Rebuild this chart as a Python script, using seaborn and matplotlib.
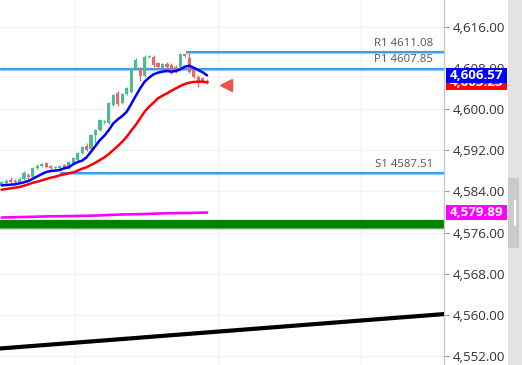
import numpy as np
import pandas as pd
import matplotlib
matplotlib.use("Agg")
import matplotlib.pyplot as plt
import seaborn as sns
from matplotlib.patches import Rectangle
from matplotlib.lines import Line2D
from matplotlib.transforms import blended_transform_factory
from matplotlib.ticker import FuncFormatter

# ---------------- data ----------------
opens = [4585.3, 4585.6, 4586.3, 4586.1, 4585.9, 4586.4, 4587.3, 4586.9, 4588.5, 4589.0,
         4589.5, 4588.9, 4588.5, 4588.6, 4589.2, 4588.6, 4589.6, 4590.1, 4591.5, 4592.9,
         4592.3, 4595.0, 4596.0, 4597.5, 4597.3, 4600.8, 4603.2, 4601.2, 4603.0, 4603.4,
         4608.0, 4608.0, 4606.5, 4610.1, 4610.2, 4608.9, 4608.0, 4608.8, 4608.6, 4608.3,
         4608.3, 4610.7, 4609.9, 4607.6, 4606.3, 4606.0, 4605.5]
highs = [4586.0, 4586.4, 4586.8, 4586.5, 4586.8, 4587.9, 4587.6, 4588.8, 4589.3, 4589.6,
         4589.7, 4589.1, 4588.9, 4589.1, 4589.4, 4590.0, 4590.8, 4591.7, 4592.9, 4593.5,
         4595.2, 4596.2, 4598.1, 4598.0, 4601.5, 4603.0, 4603.6, 4603.2, 4604.3, 4608.2,
         4609.9, 4608.3, 4610.5, 4610.6, 4610.5, 4609.2, 4609.0, 4609.1, 4608.9, 4608.6,
         4610.9, 4610.9, 4610.9, 4607.9, 4606.6, 4606.2, 4605.8]
lows = [4585.0, 4585.3, 4585.6, 4585.5, 4585.7, 4586.2, 4586.5, 4586.6, 4588.3, 4588.8,
        4588.5, 4588.2, 4588.3, 4588.4, 4588.3, 4588.4, 4589.4, 4589.9, 4591.3, 4591.8,
        4592.0, 4593.4, 4595.8, 4597.2, 4597.1, 4600.6, 4600.7, 4601.0, 4602.8, 4603.2,
        4607.8, 4605.4, 4606.3, 4609.9, 4608.3, 4607.9, 4607.8, 4607.9, 4606.8, 4607.0,
        4608.0, 4610.2, 4607.0, 4606.1, 4604.4, 4605.1, 4604.9]
closes = [4585.8, 4586.1, 4585.9, 4585.8, 4586.5, 4587.6, 4586.8, 4588.6, 4589.0, 4589.4,
          4588.8, 4588.5, 4588.7, 4588.9, 4588.6, 4589.8, 4590.5, 4591.5, 4592.7, 4592.1,
          4595.0, 4596.0, 4597.9, 4597.8, 4601.2, 4602.8, 4601.1, 4602.9, 4604.1, 4608.0,
          4609.6, 4606.5, 4610.2, 4610.35, 4608.6, 4608.2, 4608.8, 4608.2, 4607.0, 4607.3,
          4610.7, 4610.35, 4607.3, 4606.3, 4605.4, 4605.4, 4605.1]

blue_ma = [4585.19, 4585.26, 4585.32, 4585.39, 4585.58, 4585.78, 4586.04, 4586.49, 4586.94, 4587.40,
           4587.79, 4587.98, 4588.05, 4588.18, 4588.50, 4588.70, 4589.28, 4589.73, 4589.99, 4590.64,
           4591.74, 4592.85, 4594.01, 4594.86, 4595.96, 4597.26, 4598.03, 4598.68, 4599.52, 4601.02,
           4602.57, 4604.06, 4605.36, 4606.14, 4606.79, 4607.11, 4607.31, 4607.44, 4607.31, 4607.44,
           4607.76, 4608.28, 4608.47, 4608.08, 4607.63, 4607.18, 4606.57]
red_ma = [4584.35, 4584.48, 4584.61, 4584.74, 4584.87, 4585.13, 4585.39, 4585.71, 4585.91, 4586.17,
          4586.43, 4586.68, 4586.88, 4587.14, 4587.33, 4587.53, 4587.72, 4588.05, 4588.43, 4588.70,
          4589.15, 4589.60, 4590.12, 4590.64, 4591.29, 4592.07, 4592.85, 4593.69, 4594.66, 4595.83,
          4596.93, 4598.23, 4599.52, 4600.50, 4601.28, 4602.12, 4602.64, 4603.09, 4603.61, 4604.06,
          4604.52, 4604.91, 4605.17, 4605.30, 4605.36, 4605.36, 4605.23]
magenta = [4578.93, 4578.95, 4578.97, 4578.99, 4579.01, 4579.03, 4579.05, 4579.07, 4579.10, 4579.13,
           4579.15, 4579.17, 4579.18, 4579.19, 4579.20, 4579.21, 4579.22, 4579.24, 4579.26, 4579.28,
           4579.29, 4579.31, 4579.34, 4579.38, 4579.42, 4579.46, 4579.49, 4579.52, 4579.54, 4579.56,
           4579.58, 4579.60, 4579.62, 4579.65, 4579.68, 4579.71, 4579.74, 4579.77, 4579.78, 4579.79,
           4579.80, 4579.81, 4579.82, 4579.84, 4579.86, 4579.88, 4579.89]

pivot_names = ["R1", "P1", "S1"]
pivot_values = [4611.08, 4607.85, 4587.51]
pivot_starts = [41.3, -0.4, 13.1]

support_band = 4577.67
trend_x = [-0.4, 99.1]
trend_y = [4553.45, 4560.15]

signal_x = [50.2]
signal_y = [4604.71]

y_ticks = [4552, 4560, 4568, 4576, 4584, 4592, 4600, 4608, 4616]
x_grid = [16.5, 48.5, 80.5]

# ---------------- figure ----------------
sns.set_theme(style="white")
plt.rcParams["font.family"] = ["Open Sans", "DejaVu Sans"]

W, H = 522, 365
fig = plt.figure(figsize=(W / 100, H / 100), dpi=100)
fig.patch.set_facecolor("white")
ax = fig.add_axes([0, 0, 444 / W, 1])
ax.set_facecolor("white")
ax.set_xlim(-0.373, 99.02)
ax.set_ylim(4550.24, 4621.25)

ax.set_yticks(y_ticks)
ax.yaxis.tick_right()
ax.yaxis.set_major_formatter(FuncFormatter(lambda v, p: f"{v:,.2f}"))
ax.set_xticks(x_grid)
ax.set_xticklabels([])
ax.tick_params(axis="x", length=0)
ax.tick_params(axis="y", length=3.5, width=0.8, color="#9a9a9a", labelsize=9.6,
               labelcolor="#333333", pad=3)
ax.grid(True, color="#f3f3f3", lw=1.0)
ax.set_axisbelow(True)
for s in ["left", "top", "bottom"]:
    ax.spines[s].set_visible(False)
ax.spines["right"].set_color("#c8c8c8")
ax.spines["right"].set_linewidth(1.0)

df = pd.DataFrame({"i": np.arange(len(opens)), "open": opens, "high": highs,
                   "low": lows, "close": closes, "blue": blue_ma, "red": red_ma,
                   "mag": magenta})
up = df["close"] >= df["open"]
cols = np.where(up, "#4fbb92", "#e4696c")

# green support band
ax.axhline(support_band, color="#5aaa5a", lw=6.8, zorder=2)
ax.axhline(support_band, color="#008000", lw=5.6, zorder=2)

# black trend line
sns.lineplot(x=trend_x, y=trend_y, ax=ax, color="black", lw=3.0, zorder=3)

# pivot lines + labels
for name, val, st in zip(pivot_names, pivot_values, pivot_starts):
    ax.plot([st, 99.1], [val, val], color="#9fd0fb", lw=2.4, zorder=3, solid_capstyle="butt")
    ax.plot([st, 99.1], [val, val], color="#2196f3", lw=1.2, zorder=3, solid_capstyle="butt")
    ax.text(96.6, val + 9 / 5.14, f"{name} {val:.2f}", ha="right", va="center",
            fontsize=8.2, color="#555555", zorder=4)

# candles
ax.vlines(df["i"], df["low"], df["high"], colors=cols, lw=1.0, zorder=4)
body_lo = np.minimum(df["open"], df["close"])
body_h = np.maximum(np.abs(df["close"] - df["open"]), 0.2)
ax.bar(df["i"], body_h, bottom=body_lo, width=0.7, color=cols, edgecolor="none", zorder=5)

# moving averages
sns.lineplot(data=df, x="i", y="mag", ax=ax, color="#ff00ff", lw=1.9, zorder=6)
sns.lineplot(data=df, x="i", y="red", ax=ax, color="#ff0000", lw=1.8, zorder=6)
sns.lineplot(data=df, x="i", y="blue", ax=ax, color="#0000ff", lw=1.8, zorder=7)
ax.set_xlabel("")
ax.set_ylabel("")

# signal marker
ax.plot(signal_x, signal_y, marker="<", color="#ef5350", ms=9, ls="none",
        zorder=8, clip_on=False)

# ---------------- price tags ----------------
tr = blended_transform_factory(fig.transFigure, ax.transData)
box_h = 15.5 / 5.14


def tag(val, color, z):
    fig.add_artist(Rectangle((446 / W, val - box_h / 2), 61 / W, box_h, transform=tr,
                             facecolor=color, edgecolor="none", zorder=z))
    fig.text(476.5 / W, val, f"{val:,.2f}", transform=tr, ha="center", va="center",
             color="white", fontsize=9.6, fontweight="bold", zorder=z + 0.5)


tag(red_ma[-1], "#ff0000", 5)
tag(blue_ma[-1], "#0000ff", 7)
tag(magenta[-1], "#ff00ff", 9)

# scrollbar
fig.add_artist(Rectangle((508 / W, 0), 14 / W, 1, transform=fig.transFigure,
                         facecolor="#e3e3e3", edgecolor="none", zorder=3))
fig.add_artist(Rectangle((508 / W, (H - 248) / H), 11 / W, 70 / H, transform=fig.transFigure,
                         facecolor="#cbcbcb", edgecolor="none", zorder=3.2))
fig.add_artist(Line2D([514.5 / W, 514.5 / W], [(H - 225) / H, (H - 201) / H],
                      transform=fig.transFigure, color="white", lw=1.6, zorder=3.4))

fig.savefig("out.png", dpi=100)
